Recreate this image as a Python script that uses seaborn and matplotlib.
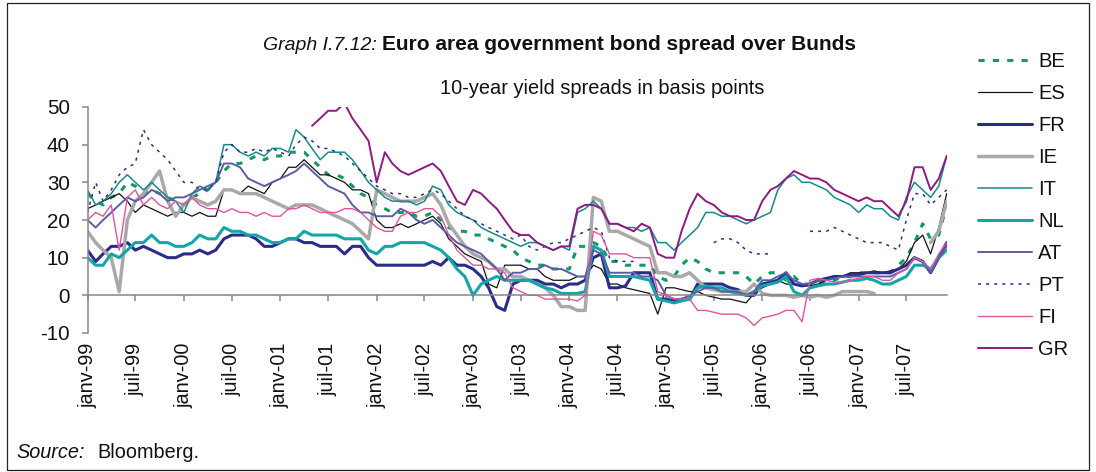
import numpy as np
import pandas as pd
import matplotlib
matplotlib.use("Agg")
import matplotlib.pyplot as plt
import seaborn as sns
from matplotlib.lines import Line2D
from matplotlib.patches import Rectangle

nan = np.nan

# ---------------- data (monthly readings, Jan 1999 - Dec 2007, basis points) ----------------
start_month = "1999-01-01"
n_months = 108

BE = [27, 25, 24, 26, 27, 30, 29, 27, 28, 27, 26, 25,
      24, 26, 27, 28, 30, 33, 35, 35, 36, 37, 36, 37,
      37, 38, 38, 38, 36, 34, 32, 32, 31, 29, 27, 26,
      24, 23, 22, 22, 22, 21, 21, 22, 20, 18, 17, 17,
      16, 16, 15, 14, 13, 12, 10, 9, 8, 8, 7, 7,
      7, 13, 13, 14, 13, 9, 9, 8, 8, 8, 8, 5,
      4, 5, 8, 10, 9, 7, 6, 6, 6, 6, 5, 3,
      5, 6, 6, 4, 5, 3, 3, 3, 4, 4, 5, 5,
      6, 6, 6, 6, 6, 8, 10, 14, 19, 15, 16, 24]

ES = [23, 24, 25, 26, 27, 25, 22, 24, 23, 22, 21, 22,
      22, 21, 22, 21, 21, 28, 28, 27, 29, 28, 27, 30,
      31, 34, 34, 36, 34, 32, 32, 31, 30, 28, 28, 27,
      20, 18, 18, 19, 18, 19, 20, 21, 19, 15, 13, 11,
      10, 9, 3, 2, 8, 8, 8, 7, 7, 5, 4, 4,
      4, 5, 5, 8, 7, 3, 3, 2, 1.5, 1, 0.5, -5,
      2, 2, 1.5, 1, 1, 0, -0.5, -1, -1, -1.5, -2, 0.5,
      2, 3, 4, 3, 3, 2.5, 2.5, 3, 4, 5, 5, 6,
      6, 6, 6.5, 6, 6.5, 7, 9, 14, 16, 11, 18, 27]

FR = [12, 9, 11, 13, 13, 14, 12, 13, 12, 11, 10, 10,
      11, 11, 12, 11, 12, 15, 16, 16, 16, 15, 13, 13,
      14, 15, 15, 14, 14, 13, 13, 13, 11, 13, 13, 10,
      8, 8, 8, 8, 8, 8, 8, 9, 8, 10, 8, 8,
      7, 5, 2, -3, -4, 3, 4, 4, 4, 3, 3, 2,
      3, 3, 4, 10, 11, 2, 2, 2.5, 6, 6, 6, -1,
      -1, -1.5, -1, -1, 3, 3, 3, 3, 2, 1.5, 0, 0,
      3, 3.5, 4, 6, 3, 2.5, 3, 4, 4.5, 5, 5, 5.5,
      5.5, 6, 6, 6, 6, 7, 8, 10, 9, 6, 10, 14]

IE = [17, 14, 12, 10, 1, 20, 25, 27, 30, 33, 25, 21,
      24, 26, 25, 24, 25, 28, 28, 27, 27, 27, 26, 25,
      24, 23, 24, 24, 24, 23, 22, 21, 20, 19, 17, 15,
      28, 27, 26, 25, 25, 25, 26, 27, 24, 19, 16, 13,
      11, 10, 9, 7, 7, 5, 5, 4, 3, 2, 0, -3,
      -3, -4, -4, 26, 25, 17, 17, 16, 15, 14, 13, 6,
      6, 5, 5, 6, 4, 2, 1.5, 1, 1, 1, 1, 3,
      0.5, 0, 0, 0, -0.5, 0, -0.5, 0, -0.5, 0, 1, 1,
      1, 1, 0.5, nan, nan, nan, nan, nan, nan, 14, 17, 25]

IT = [28, 24, 25, 27, 30, 32, 30, 28, 30, 28, 26, 25,
      22, 27, 29, 28, 30, 40, 40, 38, 37, 38, 37, 39,
      39, 38, 44, 42, 39, 36, 38, 38, 38, 36, 33, 30,
      28, 26, 25, 25, 25, 24, 25, 29, 28, 24, 22, 21,
      20, 18, 17, 16, 15, 14, 13, 14, 14, 13, 12, 13,
      12, 22, 23, 25, 23, 19, 19, 18, 18, 17, 18, 14,
      14, 12, 14, 16, 18, 22, 22, 21, 21, 20, 19, 20,
      21, 22, 28, 31, 32, 30, 30, 29, 28, 26, 25, 24,
      22, 24, 23, 23, 21, 20, 26, 30, 28, 26, 29, 37]

NL = [10, 8, 8, 11, 10, 12, 14, 14, 16, 14, 14, 13,
      13, 14, 16, 15, 15, 18, 17, 17, 16, 16, 15, 14,
      14, 15, 15, 17, 16, 16, 16, 16, 15, 15, 15, 12,
      11, 13, 13, 14, 14, 14, 14, 13, 12, 10, 7, 5,
      0, 3, 4, 5, 4, 4, 4, 4, 3, 2, 1.5, 0.5,
      0.5, 0.5, 1, 13, 12, 5, 5, 5, 5, 4.5, 4, -1,
      -1.5, -2, -1.5, -1, 2, 2.5, 2, 2, 1, 0.5, 0, 1,
      2.5, 3, 3.5, 5, 1, 0, 2, 2.5, 3, 3, 3.5, 4,
      4, 4.5, 4, 3, 3, 4, 5, 8, 8, 7, 10, 12]

AT = [20, 18, 20, 22, 24, 26, 25, 26, 28, 27, 25, 26,
      26, 27, 28, 29, 30, 35, 35, 34, 31, 30, 29, 30,
      31, 32, 33, 35, 33, 31, 29, 28, 27, 24, 22, 22,
      21, 21, 21, 23, 22, 20, 19, 20, 18, 16, 14, 13,
      12, 11, 9, 7, 4, 6, 6, 7, 7, 8, 7, 7,
      6, 5, 5, 12, 11, 6, 6, 6, 6, 5, 5, 4,
      0, -1, -1, 0, 1, 2, 2, 1, 1, 1, 0, 1,
      4, 4, 5, 6, 4, 3, 3, 4, 4, 4.5, 5, 5,
      5, 5, 5, 5, 5, 6, 7, 10, 9, 6, 10, 13]

PT = [22, 30, 25, 28, 32, 34, 35, 44, 40, 38, 36, 33,
      30, 30, 28, 28, 30, 38, 40, 38, 38, 39, 38, 39,
      38, 37, 40, 42, 41, 39, 39, 38, 37, 35, 33, 31,
      29, 28, 27, 27, 26, 26, 27, 28, 27, 25, 23, 21,
      20, 19, 18, 17, 16, 15, 16, 13, 12, 13, 14, 14,
      15, 16, 17, 18, 17, 10, 9, 9, 9, nan, nan, nan,
      nan, nan, nan, nan, nan, nan, 14, 15, 15, 14, 12, 11,
      11, 11, nan, nan, nan, nan, 17, 17, 17, 18, 17, 16,
      15, 14, 14, 14, 13, 12, 20, 27, 27, 24, 26, 28]

FI = [20, 22, 21, 24, 12, 26, 28, 24, 26, 24, 23, 25,
      24, 26, 24, 23, 23, 22, 23, 22, 22, 21, 22, 21,
      21, 23, 23, 24, 23, 22, 22, 22, 23, 23, 22, 20,
      18, 17, 17, 21, 22, 22, 23, 23, 21, 16, 12, 10,
      8, 8, 7, 7, 6, 2, 1, 0, 0, -1, -1, -1,
      -1, -1.5, 0, 17, 16, 11, 11, 11, 10, 10, 10, 1,
      0, -1, -1, -1, -4, -4, -4.5, -5, -5, -5, -6, -8,
      -6, -5.5, -5, -4, -4, -7, 4, 4.5, 4, 3.5, 3.5, 4,
      4.5, 5, 5, 4, 4, 6, 7, 10, 9, 7, 11, 14]

GR = [nan] * 24 + [
      nan, nan, nan, nan, 45, 47, 49, 49, 51, 47, 44, 41,
      30, 38, 35, 33, 32, 33, 34, 35, 33, 29, 25, 24,
      28, 27, 25, 23, 20, 17, 16, 16, 14, 13, 12, 13,
      13, 23, 24, 24, 23, 19, 19, 18, 17, 19, 18, 11,
      10, 10, 17, 23, 27, 25, 24, 22, 21, 21, 20, 20,
      25, 28, 29, 31, 33, 32, 31, 31, 30, 28, 27, 26,
      25, 26, 25, 25, 23, 21, 25, 34, 34, 28, 31, 37]

countries = ["BE", "ES", "FR", "IE", "IT", "NL", "AT", "PT", "FI", "GR"]
series = {"BE": BE, "ES": ES, "FR": FR, "IE": IE, "IT": IT,
          "NL": NL, "AT": AT, "PT": PT, "FI": FI, "GR": GR}

tick_dates = ["1999-01-01", "1999-07-01", "2000-01-01", "2000-07-01", "2001-01-01",
              "2001-07-01", "2002-01-01", "2002-07-01", "2003-01-01", "2003-07-01",
              "2004-01-01", "2004-07-01", "2005-01-01", "2005-07-01", "2006-01-01",
              "2006-07-01", "2007-01-01", "2007-07-01"]
tick_labels = ["janv-99", "juil-99", "janv-00", "juil-00", "janv-01", "juil-01",
               "janv-02", "juil-02", "janv-03", "juil-03", "janv-04", "juil-04",
               "janv-05", "juil-05", "janv-06", "juil-06", "janv-07", "juil-07"]
y_ticks = [-10, 0, 10, 20, 30, 40, 50]

# ---------------- styles ----------------
styles = {
    "BE": dict(color="#119966", linewidth=2.2, linestyle=(0, (2.0, 2.7))),
    "ES": dict(color="#111111", linewidth=0.9, linestyle="-"),
    "FR": dict(color="#2B2B8A", linewidth=2.2, linestyle="-"),
    "IE": dict(color="#A9A9A9", linewidth=2.5, linestyle="-"),
    "IT": dict(color="#178A88", linewidth=1.1, linestyle="-"),
    "NL": dict(color="#13A6A8", linewidth=2.2, linestyle="-"),
    "AT": dict(color="#5A5CA6", linewidth=1.4, linestyle="-"),
    "PT": dict(color="#2E2E8E", linewidth=1.1, linestyle=(0, (2.0, 3.3))),
    "FI": dict(color="#E0559E", linewidth=1.0, linestyle="-"),
    "GR": dict(color="#8E1A82", linewidth=1.4, linestyle="-"),
}

sns.set_theme(style="white")
plt.rcParams["font.family"] = ["Liberation Sans", "DejaVu Sans"]

W, H = 1096, 472
fig = plt.figure(figsize=(W / 100, H / 100), dpi=100)
fig.patch.set_facecolor("white")

x0, x1, ytop, ybot = 87.5, 946.7, 107, 333
ax = fig.add_axes([x0 / W, 1 - ybot / H, (x1 - x0) / W, (ybot - ytop) / H])

dates = pd.date_range(start_month, periods=n_months, freq="MS")

for c in countries:
    arr = np.array(series[c], dtype=float)
    idx = np.where(~np.isnan(arr))[0]
    if len(idx) == 0:
        continue
    # split into contiguous segments so gaps stay gaps
    breaks = np.where(np.diff(idx) > 1)[0]
    starts = np.concatenate([[0], breaks + 1])
    ends = np.concatenate([breaks, [len(idx) - 1]])
    for s, e in zip(starts, ends):
        seg = idx[s:e + 1]
        df = pd.DataFrame({"date": dates[seg], "value": arr[seg]})
        sns.lineplot(data=df, x="date", y="value", ax=ax, estimator=None,
                     sort=False, legend=False, **styles[c])

ax.set_xlim(dates[0], dates[-1])
ax.set_ylim(-10, 50)
ax.set_xlabel("")
ax.set_ylabel("")

for s in ["top", "right"]:
    ax.spines[s].set_visible(False)
spine_col = "#868686"
ax.spines["left"].set_color(spine_col)
ax.spines["left"].set_linewidth(1.1)
ax.spines["bottom"].set_position(("data", 0))
ax.spines["bottom"].set_color(spine_col)
ax.spines["bottom"].set_linewidth(1.1)

ax.set_xticks(pd.to_datetime(tick_dates))
ax.set_xticklabels(tick_labels, rotation=90)
ax.set_yticks(y_ticks)
ax.set_yticklabels([str(v) for v in y_ticks])
ax.tick_params(axis="x", direction="out", length=4.2, width=1.1, color=spine_col,
               pad=30, labelsize=14.3, labelcolor="#111111", bottom=True)
ax.tick_params(axis="y", direction="out", length=4.3, width=1.1, color=spine_col,
               pad=8.5, labelsize=14.8, labelcolor="#111111", left=True)
ax.grid(False)
ax.set_facecolor("white")

# legend
handles = [Line2D([0], [0], **styles[c]) for c in countries]
fig.legend(handles, countries, loc="upper left",
           bbox_to_anchor=(978 / W, 1 - 52 / H), frameon=False, fontsize=14.5,
           handlelength=2.7, handletextpad=0.3, labelspacing=0.645,
           borderaxespad=0, borderpad=0, labelcolor="#111111")

# titles
fig.text(377 / W, 1 - 45 / H, "Graph I.7.12:", ha="right", va="center",
         style="italic", fontsize=14, color="#111111")
fig.text(382 / W, 1 - 45 / H, "Euro area government bond spread over Bunds",
         ha="left", va="center", weight="bold", fontsize=15, color="#111111")
fig.text(602 / W, 1 - 88 / H, "10-year yield spreads in basis points",
         ha="center", va="center", fontsize=14.4, color="#111111")

# source
fig.text(16 / W, 1 - 453 / H, "Source:", ha="left", va="center",
         style="italic", fontsize=14.3, color="#111111")
fig.text(97 / W, 1 - 453 / H, "Bloomberg.", ha="left", va="center",
         fontsize=14.3, color="#111111")

# outer frame
fig.patches.append(Rectangle((7 / W, 2 / H), (1089 - 7) / W, (469 - 2) / H,
                             transform=fig.transFigure, fill=False,
                             edgecolor="#222222", linewidth=0.9))

fig.savefig("out.png", dpi=100, facecolor="white")
